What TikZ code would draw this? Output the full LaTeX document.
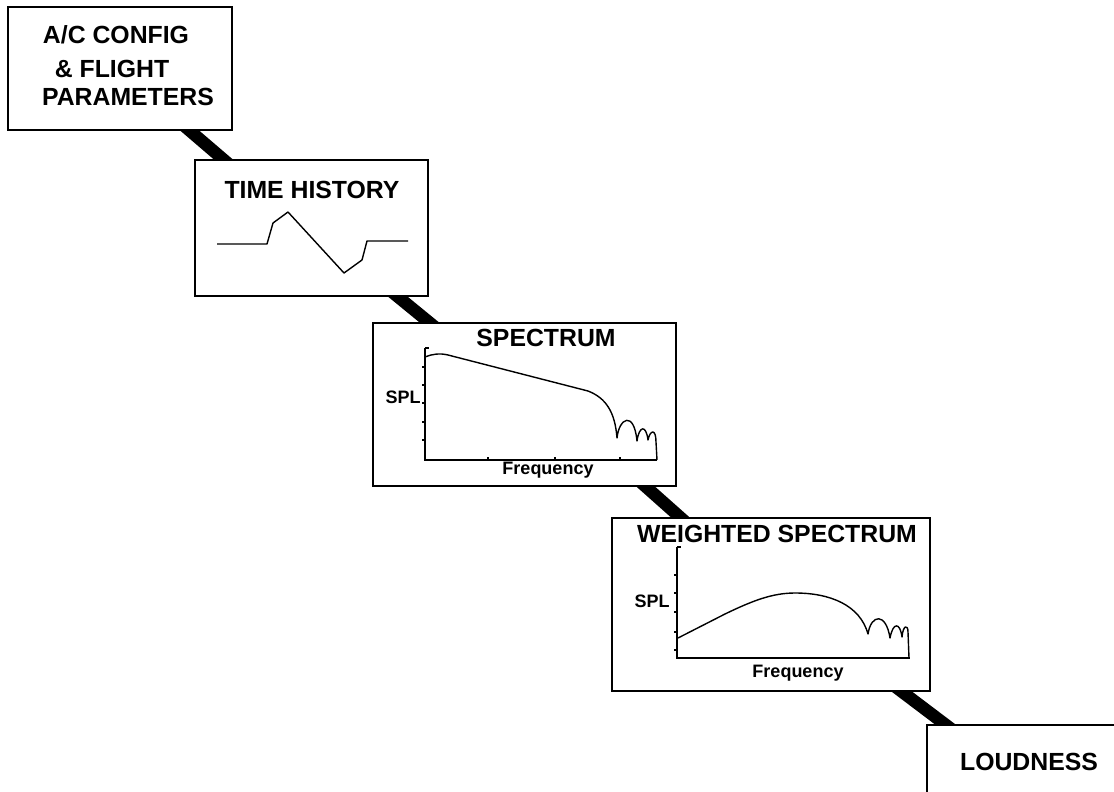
\documentclass[tikz,border=0pt]{standalone}
\usepackage{fontspec}
\newfontfamily\hv{Liberation Sans}
\usetikzlibrary{calc,backgrounds}
\begin{document}
\begin{tikzpicture}[x=0.5pt,y=-0.5pt,
  box/.style={draw, line width=1.2pt, fill=white, anchor=north west, inner sep=0pt, outer sep=0pt},
  title/.style={font=\hv\bfseries\fontsize{12.4}{15}\selectfont, inner sep=0pt},
  axlbl/.style={font=\hv\bfseries\fontsize{9}{10}\selectfont, inner sep=0pt},
  conn/.style={line width=6.2pt, shorten <=-6pt, shorten >=-6pt},
  curve/.style={line width=0.7pt, line join=round},
  axis/.style={line width=0.8pt},
  tick/.style={line width=0.6pt}]
\useasboundingbox (0,0) rectangle (1114,792);
\clip (0,0) rectangle (1114,792);
% boxes
\node[box, minimum width=112pt, minimum height=61.5pt] (b1) at (8,7) {};
\node[box, minimum width=116.5pt, minimum height=68pt] (b2) at (195,160) {};
\node[box, minimum width=151.5pt, minimum height=81.5pt] (b3) at (373,323) {};
\node[box, minimum width=159pt, minimum height=86.5pt] (b4) at (612,518) {};
\node[box, minimum width=101.5pt, minimum height=52.5pt] (b5) at (927,725) {};
% connectors
\begin{scope}[on background layer]
\fill[white] (0,0) rectangle (1114,792);
\draw[conn] ($(b1.south west)+(181,0)$) -- ($(b2.north west)+(29,0)$);
\draw[conn] ($(b2.south west)+(202,0)$) -- ($(b3.north west)+(57,0)$);
\draw[conn] ($(b3.south west)+(272,0)$) -- ($(b4.north west)+(69,0)$);
\draw[conn] ($(b4.south west)+(289,0)$) -- ($(b5.north west)+(19,0)$);
\end{scope}
% box 1
\node[title] (t1a) at (116,35) {A/C CONFIG};
\node[title] (t1b) at (112,69) {\& FLIGHT};
\node[title] (t1c) at (128,97) {PARAMETERS};
% box 2
\node[title] (t2) at (312,190) {TIME HISTORY};
\draw[curve] (217,244) -- (267,244) -- (273,223) -- (288,212) -- (344,273) -- (362,260) -- (367,241) -- (408,241);
% box 3
\node[title] (t3) at (546,338) {SPECTRUM};
\draw[axis] (425,348) -- (425,460) -- (657,460);
\draw[tick] (425,348) -- (429,348);
\foreach \yy in {367,385,403,422,440} \draw[tick] (422,\yy) -- (425,\yy);
\foreach \xx in {488,555,620} \draw[tick] (\xx,460) -- (\xx,457);
\draw[curve] (425,357) .. controls (432,354) and (440,353) .. (448,355) -- (588,391)
  .. controls (606,398) and (615,412) .. (617,438)
  .. controls (619,418) and (634,410) .. (637,441)
  .. controls (639,426) and (646,424) .. (648,440)
  .. controls (650,430) and (656,428) .. (656,442) -- (657,460);
\node[axlbl, anchor=east] (s3) at (421,397) {SPL};
\node[axlbl, anchor=base] (f3) at (548,474) {Frequency};
% box 4
\node[title] (t4) at (777,534) {WEIGHTED SPECTRUM};
\draw[axis] (677,547) -- (677,658) -- (910,658);
\draw[tick] (677,547) -- (681,547);
\foreach \yy in {575,593,612,632,650} \draw[tick] (674,\yy) -- (677,\yy);
\draw[curve] (678,638) -- (725,614) .. controls (752,601) and (772,593) .. (795,593)
  .. controls (830,593) and (860,605) .. (868,634)
  .. controls (871,614) and (886,612) .. (890,638)
  .. controls (893,622) and (900,622) .. (902,637)
  .. controls (903,625) and (908,624) .. (908,632) -- (909,658);
\node[axlbl, anchor=east] (s4) at (670,601) {SPL};
\node[axlbl, anchor=base] (f4) at (798,677) {Frequency};
% box 5
\node[title] (t5) at (1029,762) {LOUDNESS};
\end{tikzpicture}
\end{document}
